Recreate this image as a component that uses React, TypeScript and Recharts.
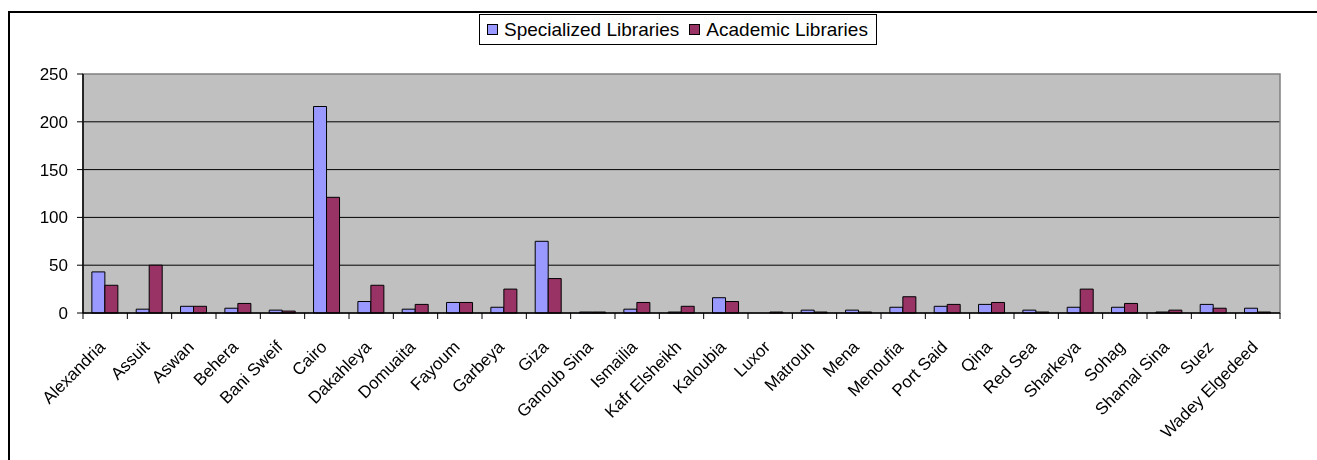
import React from 'react';
import { BarChart, Bar, XAxis, YAxis, CartesianGrid, Legend, ReferenceArea } from 'recharts';

const categories = [
  'Alexandria', 'Assuit', 'Aswan', 'Behera', 'Bani Sweif', 'Cairo', 'Dakahleya', 'Domuaita', 'Fayoum',
  'Garbeya', 'Giza', 'Ganoub Sina', 'Ismailia', 'Kafr Elsheikh', 'Kaloubia', 'Luxor', 'Matrouh', 'Mena',
  'Menoufia', 'Port Said', 'Qina', 'Red Sea', 'Sharkeya', 'Sohag', 'Shamal Sina', 'Suez', 'Wadey Elgedeed',
];
const specialized = [43, 4, 7, 5, 3, 216, 12, 4, 11, 6, 75, 1, 4, 1, 16, 0, 3, 3, 6, 7, 9, 3, 6, 6, 1, 9, 5];
const academic = [29, 50, 7, 10, 2, 121, 29, 9, 11, 25, 36, 1, 11, 7, 12, 1, 1, 1, 17, 9, 11, 1, 25, 10, 3, 5, 1];
const yTicks = [0, 50, 100, 150, 200, 250];
const seriesNames = ['Specialized Libraries', 'Academic Libraries'];

const data = categories.map((c, i) => ({ name: c, spec: specialized[i], acad: academic[i] }));

const CHART_W = 1309;
const CHART_H = 452;
const MARGIN = { top: 66, right: 37, left: 35, bottom: 47 };
const Y_W = 40;
const PLOT_W = CHART_W - MARGIN.left - MARGIN.right - Y_W;
const BAND = PLOT_W / categories.length;
const FONT = "'Liberation Sans', Arial, sans-serif";

const XTick = (props: any) => {
  const { x, y, payload, index } = props;
  const lx = x + 1;
  const ly = y + 35;
  return (
    <g>
      <line x1={x - BAND / 2} y1={y} x2={x - BAND / 2} y2={y + 6} stroke="#000" strokeWidth={1} />
      {index === categories.length - 1 && (
        <line x1={x + BAND / 2} y1={y} x2={x + BAND / 2} y2={y + 6} stroke="#000" strokeWidth={1} />
      )}
      <text
        x={lx}
        y={ly}
        transform={`rotate(-45 ${lx} ${ly})`}
        textAnchor="end"
        fontSize={17}
        fontFamily={FONT}
        fill="#000"
      >
        {payload.value}
      </text>
    </g>
  );
};

const renderLegend = (props: any) => {
  const payload = [...(props.payload || [])].sort(
    (a: any, b: any) => seriesNames.indexOf(a.value) - seriesNames.indexOf(b.value)
  );
  return (
    <div
      style={{
        border: '1px solid #000',
        background: '#fff',
        display: 'flex',
        alignItems: 'center',
        height: 29,
        padding: '0 8px 0 7px',
        fontFamily: FONT,
        fontSize: 19,
        color: '#000',
        whiteSpace: 'nowrap',
      }}
    >
      {payload.map((p: any, i: number) => (
        <div key={i} style={{ display: 'flex', alignItems: 'center', marginRight: i === 0 ? 10 : 0 }}>
          <span
            style={{
              display: 'inline-block',
              width: 9,
              height: 9,
              background: p.color,
              border: '1px solid #000',
              marginRight: 6,
            }}
          />
          <span>{p.value}</span>
        </div>
      ))}
    </div>
  );
};

export default function App() {
  return (
    <div
      style={{
        position: 'fixed',
        left: 8,
        top: 8,
        width: CHART_W,
        height: CHART_H,
        fontFamily: FONT,
      }}
    >
      <div style={{ position: 'absolute', left: 0, top: 3, width: CHART_W, height: 2, background: '#000' }} />
      <div style={{ position: 'absolute', left: 0, top: 3, width: 2, height: CHART_H - 3, background: '#000' }} />
      <div style={{ position: 'absolute', left: 0, top: 0 }}>
        <BarChart
          width={CHART_W}
          height={CHART_H}
          data={data}
          margin={MARGIN}
          barCategoryGap="20%"
          barGap={0}
        >
          <CartesianGrid
            vertical={false}
            horizontalValues={[50, 100, 150, 200]}
            stroke="#000"
            fill="#C0C0C0"
            fillOpacity={1}
          />
          <ReferenceArea y1={0} y2={250} fill="none" stroke="#808080" strokeWidth={1.5} ifOverflow="visible" />
          <XAxis
            dataKey="name"
            interval={0}
            height={100}
            tickSize={0}
            tickMargin={0}
            tickLine={false}
            axisLine={{ stroke: '#000', strokeWidth: 1.5 }}
            tick={<XTick />}
          />
          <YAxis
            width={Y_W}
            domain={[0, 250]}
            ticks={yTicks}
            interval={0}
            tickSize={6}
            tickMargin={9}
            tickLine={{ stroke: '#000' }}
            axisLine={{ stroke: '#000', strokeWidth: 1.5 }}
            tick={{ fill: '#000', fontSize: 17, fontFamily: FONT }}
          />
          <Legend
            layout="horizontal"
            verticalAlign="middle"
            align="center"
            content={renderLegend}
            wrapperStyle={{ position: 'absolute', left: 471, top: 6, width: 'auto' }}
          />
          <Bar
            dataKey="spec"
            name={seriesNames[0]}
            fill="#9999FF"
            stroke="#000"
            strokeWidth={1}
            isAnimationActive={false}
          />
          <Bar
            dataKey="acad"
            name={seriesNames[1]}
            fill="#993366"
            stroke="#000"
            strokeWidth={1}
            isAnimationActive={false}
          />
        </BarChart>
      </div>
    </div>
  );
}
